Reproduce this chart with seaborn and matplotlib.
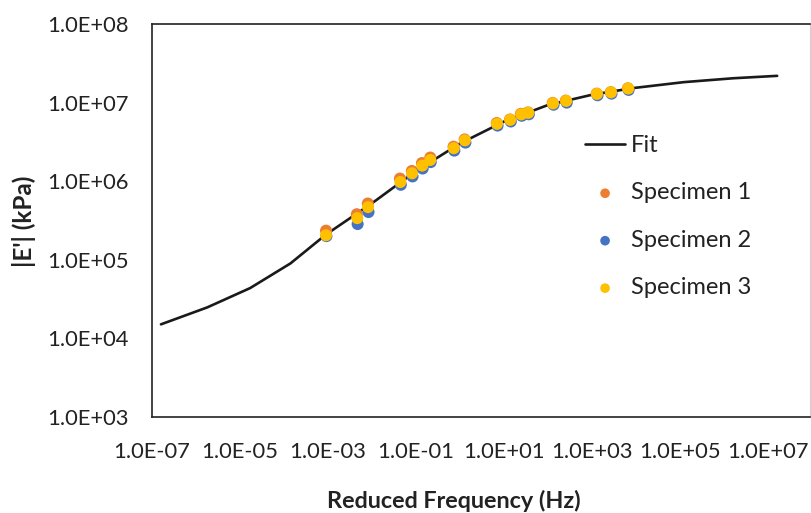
import matplotlib
matplotlib.use("Agg")
import matplotlib.pyplot as plt
import seaborn as sns
import pandas as pd
from matplotlib.ticker import FixedLocator, FixedFormatter, NullLocator

# ---- data ----
fit_freq = [1.6e-7, 1.8e-6, 1.7e-5, 1.4e-4, 8.9e-4, 1.0e-2, 1.0e-1, 1.0, 10.0, 100.0,
            1.0e3, 8.5e3, 1.2e5, 1.6e6, 1.6e7]
fit_mod = [1.51e4, 2.48e4, 4.37e4, 9.0e4, 2.09e5, 5.25e5, 1.35e6, 3.02e6, 5.75e6, 9.33e6,
           1.26e7, 1.53e7, 1.82e7, 2.04e7, 2.19e7]

spec3_freq = [9.0e-4, 4.6e-3, 8.1e-3, 4.4e-2, 8.1e-2, 0.138, 0.21, 0.72, 1.29, 6.9,
              13.8, 24.5, 35.5, 129, 257, 1290, 2690, 6610]
spec3_mod = [2.05e5, 3.39e5, 4.68e5, 9.77e5, 1.26e6, 1.58e6, 1.86e6, 2.63e6, 3.31e6, 5.37e6,
             6.03e6, 7.08e6, 7.41e6, 9.77e6, 1.05e7, 1.29e7, 1.35e7, 1.51e7]

spec1_freq = [9.0e-4, 4.5e-3, 8.0e-3, 4.3e-2, 8.0e-2, 0.136, 0.21, 0.71, 1.27, 6.8,
              13.6, 24.0, 35.0, 127, 252, 1270, 2650, 6500]
spec1_mod = [2.35e5, 3.8e5, 5.2e5, 1.08e6, 1.35e6, 1.7e6, 2.0e6, 2.75e6, 3.4e6, 5.5e6,
             6.1e6, 7.2e6, 7.5e6, 9.9e6, 1.06e7, 1.3e7, 1.36e7, 1.52e7]

spec2_freq = [9.2e-4, 4.7e-3, 8.3e-3, 4.5e-2, 8.3e-2, 0.141, 0.215, 0.74, 1.32, 7.1,
              14.2, 25.2, 36.5, 133, 265, 1330, 2760, 6750]
spec2_mod = [2.0e5, 2.85e5, 4.05e5, 9.0e5, 1.15e6, 1.45e6, 1.75e6, 2.45e6, 3.1e6, 5.1e6,
             5.75e6, 6.8e6, 7.1e6, 9.4e6, 1.0e7, 1.24e7, 1.3e7, 1.45e7]

x_ticks = [1e-7, 1e-5, 1e-3, 1e-1, 1e1, 1e3, 1e5, 1e7]
x_labels = ["1.0E-07", "1.0E-05", "1.0E-03", "1.0E-01", "1.0E+01", "1.0E+03", "1.0E+05", "1.0E+07"]
y_ticks = [1e3, 1e4, 1e5, 1e6, 1e7, 1e8]
y_labels = ["1.0E+03", "1.0E+04", "1.0E+05", "1.0E+06", "1.0E+07", "1.0E+08"]

colors = {"Specimen 1": "#ED7D31", "Specimen 2": "#4472C4", "Specimen 3": "#FFC000"}

# ---- figure ----
sns.set_theme(style="white")
plt.rcParams["font.family"] = ["Lato", "DejaVu Sans"]

fig = plt.figure(figsize=(8.11, 5.13), dpi=100)
ax = fig.add_axes([152 / 811, 1 - 417 / 513, (810 - 152) / 811, (417 - 24) / 513])

fit_df = pd.DataFrame({"freq": fit_freq, "mod": fit_mod})
sns.lineplot(data=fit_df, x="freq", y="mod", ax=ax, color="#1a1a1a", lw=1.9,
             label="Fit", sort=False, estimator=None)

for name, fq, md in [("Specimen 1", spec1_freq, spec1_mod),
                     ("Specimen 2", spec2_freq, spec2_mod),
                     ("Specimen 3", spec3_freq, spec3_mod)]:
    df = pd.DataFrame({"freq": fq, "mod": md})
    sns.scatterplot(data=df, x="freq", y="mod", ax=ax, color=colors[name], s=75,
                    edgecolor="none", linewidth=0, label=name, zorder=3)

ax.set_xscale("log")
ax.set_yscale("log")
ax.set_xlim(1e-7, 10 ** 7.95)
ax.set_ylim(1e3, 1e8)

ax.xaxis.set_major_locator(FixedLocator(x_ticks))
ax.xaxis.set_major_formatter(FixedFormatter(x_labels))
ax.xaxis.set_minor_locator(NullLocator())
ax.yaxis.set_major_locator(FixedLocator(y_ticks))
ax.yaxis.set_major_formatter(FixedFormatter(y_labels))
ax.yaxis.set_minor_locator(NullLocator())

ax.tick_params(axis="both", which="major", direction="in", length=5, width=1.2,
               color="#222222", labelsize=15.8, labelcolor="#222222")
ax.tick_params(axis="x", pad=18)
ax.tick_params(axis="y", pad=17)

for name, sp in ax.spines.items():
    sp.set_visible(True)
    sp.set_color("#222222")
    sp.set_linewidth(1.2)
ax.spines["right"].set_color("#d0d0d0")
ax.spines["right"].set_linewidth(0.8)

ax.set_xlabel("Reduced Frequency (Hz)", fontsize=16.8, fontweight="bold",
              color="#222222")
ax.xaxis.set_label_coords((454 - 152) / (810 - 152), -(501 - 417) / (417 - 24))
ax.set_ylabel("|E'| (kPa)", fontsize=17.5, fontweight="bold", color="#222222")
ax.yaxis.set_label_coords(-(152 - 24) / (810 - 152), (417 - 221) / (417 - 24))
ax.xaxis.label.set_va("center")
ax.yaxis.label.set_va("center")

handles, labels = ax.get_legend_handles_labels()
leg = ax.legend(handles, labels, loc="upper left",
                bbox_to_anchor=(585 / 811, 1 - 135 / 513), bbox_transform=fig.transFigure,
                frameon=False, fontsize=17, handlelength=1.7, handletextpad=0.25,
                labelspacing=1.12, borderpad=0, borderaxespad=0, markerscale=0.8)
for t in leg.get_texts():
    t.set_color("#222222")

fig.savefig("out.png", dpi=100)
